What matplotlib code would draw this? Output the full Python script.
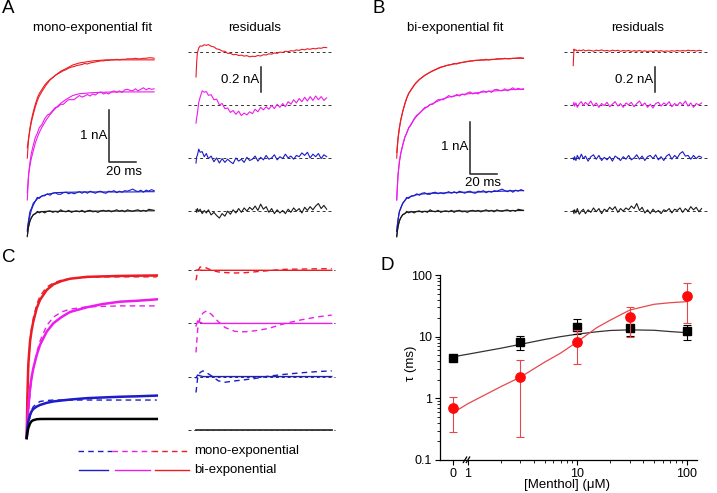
import numpy as np
import matplotlib
matplotlib.use('Agg')
import matplotlib.pyplot as plt
from matplotlib.lines import Line2D
from matplotlib.ticker import FixedLocator, NullFormatter

plt.rcParams['font.family'] = ['Liberation Sans', 'DejaVu Sans']

W, H = 717, 493

RED = '#ec1c24'
MAG = '#ec1cec'
BLUE = '#1c1cc8'
BLACK = '#1a1a1a'
colors = [RED, MAG, BLUE, BLACK]

### recorded currents (nA) vs time (ms) ###
t_grid = [1, 1.5, 2, 3, 4, 5.5, 7, 8.5, 10] + list(range(12, 97, 2))

raw_red = [1.54, 1.75, 1.92, 2.12, 2.27, 2.44, 2.58, 2.70, 2.79, 2.87, 2.95, 3.01, 3.06, 3.10, 3.14,
           3.17, 3.20, 3.23, 3.25, 3.28, 3.30, 3.31, 3.33, 3.34, 3.35, 3.37, 3.36, 3.38, 3.39, 3.40,
           3.41, 3.42, 3.42, 3.43, 3.43, 3.44, 3.44, 3.45, 3.44, 3.45, 3.45, 3.46, 3.46, 3.46, 3.47,
           3.46, 3.46, 3.47, 3.47, 3.48, 3.48, 3.47]
raw_mag = [0.73, 1.00, 1.22, 1.46, 1.63, 1.79, 1.94, 2.02, 2.13, 2.19, 2.30, 2.37, 2.40, 2.46, 2.52,
           2.53, 2.58, 2.58, 2.63, 2.67, 2.67, 2.67, 2.71, 2.75, 2.72, 2.74, 2.77, 2.74, 2.78, 2.76,
           2.80, 2.82, 2.78, 2.80, 2.78, 2.82, 2.84, 2.81, 2.84, 2.81, 2.86, 2.87, 2.85, 2.84, 2.88,
           2.84, 2.87, 2.90, 2.86, 2.89, 2.87, 2.88]
raw_blue = [0.12, 0.25, 0.35, 0.51, 0.56, 0.67, 0.71, 0.78, 0.76, 0.81, 0.81, 0.85, 0.82, 0.86, 0.87,
            0.84, 0.84, 0.87, 0.88, 0.85, 0.87, 0.85, 0.87, 0.89, 0.86, 0.89, 0.86, 0.90, 0.88, 0.86,
            0.89, 0.90, 0.87, 0.86, 0.90, 0.89, 0.91, 0.87, 0.90, 0.88, 0.91, 0.90, 0.92, 0.94, 0.91,
            0.89, 0.92, 0.88, 0.92, 0.90, 0.93, 0.91]
raw_black = [0.02, 0.14, 0.22, 0.33, 0.38, 0.45, 0.46, 0.51, 0.48, 0.51, 0.48, 0.51, 0.52, 0.49, 0.51,
             0.49, 0.54, 0.51, 0.50, 0.53, 0.49, 0.51, 0.52, 0.50, 0.53, 0.49, 0.52, 0.53, 0.50, 0.51,
             0.49, 0.52, 0.53, 0.51, 0.53, 0.50, 0.52, 0.54, 0.51, 0.53, 0.50, 0.54, 0.52, 0.51, 0.53,
             0.54, 0.51, 0.53, 0.51, 0.55, 0.54, 0.53]

# fitted curves for panels A (mono) and B (bi)
t_fit = [1, 2, 3, 4, 5.5, 7, 8.5, 10, 12, 15, 18, 22, 26, 30, 35, 40, 45, 50, 60, 70, 80, 90, 96]
mono_red = [1.74, 1.93, 2.09, 2.23, 2.39, 2.53, 2.65, 2.74, 2.83, 2.95, 3.05, 3.14, 3.22, 3.27, 3.34,
            3.38, 3.40, 3.42, 3.44, 3.44, 3.44, 3.44, 3.44]
mono_mag = [0.875, 1.23, 1.40, 1.53, 1.685, 1.83, 1.94, 2.036, 2.14, 2.27, 2.38, 2.50, 2.60, 2.675,
            2.75, 2.785, 2.795, 2.805, 2.815, 2.82, 2.82, 2.82, 2.82]
mono_blue = [0.16, 0.31, 0.43, 0.53, 0.63, 0.705, 0.75, 0.78, 0.805, 0.835, 0.85, 0.87, 0.875, 0.88,
             0.88, 0.885, 0.885, 0.885, 0.885, 0.885, 0.885, 0.89, 0.89]
mono_black = [0.04, 0.22, 0.32, 0.39, 0.44, 0.47, 0.49, 0.50, 0.505, 0.51, 0.51, 0.51, 0.51, 0.51,
              0.51, 0.51, 0.51, 0.515, 0.515, 0.515, 0.515, 0.52, 0.52]
bi_red = [1.65, 1.92, 2.12, 2.27, 2.44, 2.58, 2.70, 2.79, 2.87, 2.98, 3.06, 3.14, 3.20, 3.25, 3.305,
          3.34, 3.365, 3.39, 3.43, 3.44, 3.46, 3.47, 3.47]
bi_mag = [0.73, 1.21, 1.47, 1.62, 1.79, 1.93, 2.03, 2.12, 2.21, 2.32, 2.41, 2.50, 2.57, 2.62, 2.68,
          2.72, 2.745, 2.77, 2.80, 2.83, 2.85, 2.87, 2.87]
bi_blue = [0.12, 0.35, 0.50, 0.58, 0.66, 0.72, 0.76, 0.78, 0.80, 0.825, 0.84, 0.85, 0.86, 0.86, 0.865,
           0.87, 0.875, 0.88, 0.88, 0.89, 0.90, 0.91, 0.91]
bi_black = [0.02, 0.21, 0.32, 0.39, 0.44, 0.47, 0.49, 0.50, 0.50, 0.505, 0.505, 0.51, 0.51, 0.51, 0.51,
            0.51, 0.515, 0.515, 0.515, 0.52, 0.52, 0.525, 0.525]

# residuals (nA) on t_grid
resA_red = [-0.20, -0.08, -0.01, 0.03, 0.045, 0.044, 0.055, 0.050, 0.056, 0.043, 0.038, 0.022, 0.018,
            0.005, 0.003, -0.013, -0.013, -0.024, -0.021, -0.030, -0.027, -0.035, -0.031, -0.041,
            -0.036, -0.038, -0.030, -0.034, -0.024, -0.026, -0.017, -0.019, -0.010, -0.013, -0.003,
            -0.006, 0.004, 0.000, 0.008, 0.005, 0.014, 0.010, 0.019, 0.015, 0.023, 0.019, 0.026,
            0.022, 0.029, 0.027, 0.034, 0.032]
resA_mag = [-0.145, -0.10, -0.07, 0.02, 0.06, 0.11, 0.10, 0.105, 0.075, 0.08, 0.04, 0.045, 0.0, 0.01,
            -0.03, -0.025, -0.06, -0.045, -0.075, -0.05, -0.085, -0.065, -0.08, -0.055, -0.07,
            -0.035, -0.055, -0.02, -0.04, -0.015, -0.035, -0.005, -0.03, 0.005, -0.02, 0.01, -0.015,
            0.025, 0.005, 0.04, 0.015, 0.05, 0.025, 0.06, 0.03, 0.065, 0.035, 0.07, 0.04, 0.065,
            0.035, 0.055]
resA_blue = [-0.04, 0.01, 0.02, 0.07, 0.045, 0.05, 0.01, 0.035, -0.005, 0.015, -0.03, 0.0, -0.04,
             -0.005, -0.035, -0.01, -0.03, -0.045, 0.0, -0.025, -0.01, -0.035, 0.005, -0.02, -0.01,
             0.015, -0.025, 0.005, -0.015, 0.02, -0.01, 0.0, 0.025, -0.015, 0.01, -0.005, 0.03, 0.0,
             0.015, -0.01, 0.02, 0.01, 0.04, 0.02, 0.045, 0.0, 0.03, 0.01, 0.035, -0.005, 0.025, 0.01]
resA_black = [0.01, -0.01, 0.02, -0.005, 0.015, -0.02, 0.005, -0.015, 0.01, -0.03, -0.01, -0.035,
              -0.055, -0.02, -0.04, 0.0, -0.025, 0.01, -0.015, 0.02, -0.01, 0.025, 0.0, 0.03, 0.01,
              0.04, 0.005, 0.055, 0.015, 0.035, -0.01, 0.02, -0.02, 0.01, -0.015, 0.005, -0.02,
              0.015, -0.01, 0.025, 0.0, 0.02, -0.015, 0.03, 0.005, 0.035, 0.01, 0.04, 0.06, 0.02,
              0.045, 0.015]
resB_red = [-0.11, 0.02, 0.01, 0.015, 0.005, 0.012, 0.008, 0.015, 0.006, 0.012, 0.01, 0.004, 0.012,
            0.008, 0.014, 0.006, 0.01, 0.004, 0.012, 0.007, 0.011, 0.003, 0.009, 0.005, 0.01, 0.002,
            0.008, 0.004, 0.009, 0.003, 0.007, 0.001, 0.006, 0.002, 0.009, 0.004, 0.008, 0.002,
            0.006, 0.003, 0.008, 0.004, 0.01, 0.005, 0.009, 0.006, 0.012, 0.007, 0.01, 0.005, 0.011,
            0.008]
resB_mag = [0.0, 0.02, -0.01, 0.015, -0.02, 0.01, 0.025, -0.005, 0.02, 0.0, 0.03, -0.01, 0.015, -0.02,
            0.01, -0.005, 0.02, -0.015, 0.005, 0.025, -0.01, 0.01, -0.02, 0.015, 0.0, 0.02, -0.015,
            0.01, 0.03, -0.005, 0.015, -0.02, 0.005, -0.025, 0.01, 0.02, -0.01, 0.015, 0.0, 0.025,
            -0.015, 0.01, -0.005, 0.02, 0.0, 0.03, -0.01, 0.015, -0.02, 0.01, 0.0, 0.015]
resB_blue = [0.0, -0.015, 0.01, -0.02, 0.02, -0.01, 0.03, -0.005, 0.015, -0.025, 0.01, 0.025, -0.01,
             0.02, -0.02, 0.005, -0.015, 0.01, -0.025, 0.015, 0.0, -0.02, 0.01, -0.01, 0.02, -0.015,
             0.0, 0.025, -0.01, 0.015, -0.02, 0.01, 0.02, -0.005, 0.025, -0.015, 0.01, -0.02, 0.015,
             0.03, -0.01, 0.02, 0.0, 0.035, 0.05, 0.015, 0.02, -0.01, 0.02, -0.005, 0.015, 0.005]
resB_black = [0.005, -0.02, 0.01, -0.015, 0.02, -0.025, 0.0, 0.015, -0.02, 0.01, -0.01, 0.025, -0.005,
              0.02, -0.02, 0.015, 0.0, 0.03, 0.01, 0.035, -0.01, 0.02, 0.0, 0.025, 0.01, 0.04, 0.02,
              0.06, 0.005, 0.03, -0.015, 0.01, -0.02, 0.015, -0.01, 0.005, -0.02, 0.01, 0.0, 0.02,
              -0.015, 0.015, 0.005, 0.025, -0.01, 0.02, 0.0, 0.035, 0.01, 0.03, -0.005, 0.02]

# panel C: fit comparison
t_c = [0, 0.5, 1.2, 2.5, 3.7, 5, 7.5, 10, 15, 20, 26, 32.4, 45, 57, 70, 83, 97.4]
c_bi_red = [0, 0.85, 1.56, 2.06, 2.30, 2.49, 2.77, 2.95, 3.16, 3.28, 3.35, 3.40, 3.44, 3.45, 3.46, 3.465, 3.47]
c_mono_red = [0, 0.70, 1.45, 2.05, 2.35, 2.56, 2.85, 3.03, 3.22, 3.31, 3.37, 3.40, 3.43, 3.44, 3.44, 3.44, 3.44]
c_bi_mag = [0, 0.30, 0.63, 1.06, 1.30, 1.49, 1.77, 1.99, 2.27, 2.45, 2.58, 2.69, 2.79, 2.86, 2.91, 2.93, 2.96]
c_mono_mag = [0, 0.15, 0.45, 0.95, 1.25, 1.48, 1.82, 2.07, 2.40, 2.58, 2.69, 2.75, 2.80, 2.81, 2.82, 2.82, 2.82]
c_bi_blue = [0, 0.20, 0.35, 0.49, 0.57, 0.62, 0.67, 0.705, 0.75, 0.78, 0.80, 0.82, 0.85, 0.865, 0.88, 0.89, 0.905]
c_mono_blue = [0, 0.10, 0.21, 0.46, 0.60, 0.67, 0.73, 0.78, 0.80, 0.81, 0.81, 0.81, 0.81, 0.81, 0.81, 0.81, 0.81]
c_bi_black = [0, 0.10, 0.21, 0.31, 0.36, 0.38, 0.40, 0.405, 0.406, 0.406, 0.406, 0.406, 0.406, 0.406,
              0.406, 0.406, 0.406]

t_cr = [0, 1.2, 2.9, 5, 7.6, 11.2, 16, 20.7, 27.9, 35, 42.2, 51.7, 63.6, 75.5, 87.5, 97]
cres_mono_red = [-0.079, -0.008, 0.026, 0.024, 0.018, 0.0, -0.013, -0.018, -0.021, -0.019, -0.012,
                 -0.003, 0.008, 0.01, 0.012, 0.013]
cres_mono_mag = [-0.229, -0.045, 0.047, 0.082, 0.1, 0.07, 0.013, -0.032, -0.063, -0.066, -0.058,
                 -0.04, 0.0, 0.029, 0.053, 0.066]
cres_mono_blue = [-0.126, -0.008, 0.032, 0.045, 0.03, 0.005, -0.034, -0.045, -0.034, -0.025, -0.015,
                  0.003, 0.018, 0.03, 0.04, 0.045]
cres_bi_red = [0.0, 0.004, 0.002, 0.0, 0.0, 0.0, 0.0, 0.0, 0.0, 0.0, 0.0, 0.0, 0.0, 0.0, 0.0, 0.0]
cres_bi_mag = [-0.02, 0.02, 0.01, 0.0, 0.0, 0.0, 0.0, 0.0, 0.0, 0.0, 0.0, 0.0, 0.0, 0.0, 0.0, 0.0]
cres_bi_blue = [-0.01, 0.012, 0.006, 0.0, 0.0, 0.0, 0.0, 0.0, 0.0, 0.0, 0.0, 0.0, 0.0, 0.0, 0.0, 0.0]
cres_black = [0.0] * 16

# panel D: time constants
menthol = [0, 3, 10, 30, 100]
tau_black = [4.5, 8.3, 14.5, 13.6, 12.4]
tau_black_lo = [4.25, 6.1, 11.0, 10.3, 8.8]
tau_black_hi = [4.75, 10.3, 19.1, 15.5, 15.5]
tau_red = [0.69, 2.24, 8.1, 20.6, 45.7]
tau_red_lo = [0.28, 0.24, 3.6, 10.0, 16.9]
tau_red_hi = [1.06, 4.19, 12.8, 30.6, 73.3]
fit_conc = [0, 1, 2, 3, 5, 7, 10, 15, 20, 30, 50, 70, 100]
fit_black = [4.7, 5.2, 6.5, 7.5, 9.0, 10.0, 11.0, 12.0, 12.6, 12.9, 12.7, 12.1, 11.6]
fit_red = [0.58, 0.82, 1.55, 2.2, 3.85, 5.4, 8.3, 14.0, 18.6, 27.0, 33.5, 35.5, 37.0]


### layout helpers ###
fig = plt.figure(figsize=(W / 100, H / 100), dpi=100)


def px_axes(x0, y0, x1, y1):
    ax = fig.add_axes([x0 / W, 1 - y1 / H, (x1 - x0) / W, (y1 - y0) / H])
    ax.set_axis_off()
    return ax


def fig_text(x, y, s, **kw):
    fig.text(x / W, 1 - y / H, s, **kw)


def fig_line(x0, x1, y, **kw):
    fig.add_artist(Line2D([x0 / W, x1 / W], [1 - y / H, 1 - y / H], transform=fig.transFigure, **kw))


row_off = [0, -0.42, -0.84, -1.26]
FS = 9.5

raws = [raw_red, raw_mag, raw_blue, raw_black]
monos = [mono_red, mono_mag, mono_blue, mono_black]
bis = [bi_red, bi_mag, bi_blue, bi_black]


def trace_panel(x0, fits, bar_t, bar_i, txt_t, txt_i, ms_t, ms_i):
    ax = px_axes(x0, 40, x0 + 150, 245)
    ax.set_xlim(-4.47, 107.9)
    ax.set_ylim(-0.141, 3.824)
    for raw, fit, c in zip(raws, fits, colors):
        ax.plot(t_grid, raw, color=c, lw=0.8)
        ax.plot(t_fit, fit, color=c, lw=0.8)
    ax.plot([bar_t, bar_t, bar_t + 20], [bar_i + 1, bar_i, bar_i], color='#222222', lw=1.1)
    ax.text(txt_t, txt_i, '1 nA', ha='right', va='center', fontsize=FS)
    ax.text(ms_t, ms_i, '20 ms', ha='center', va='center', fontsize=FS)


def resid_panel(rect, xlim, ylim, dash_ext, t, series):
    ax = px_axes(*rect)
    ax.set_xlim(*xlim)
    ax.set_ylim(*ylim)
    for off in row_off:
        ax.plot(dash_ext, [off, off], color='#333333', lw=0.7, dashes=(3, 3))
    for res, c, off in zip(series, colors, row_off):
        ax.plot(t, np.array(res) + off, color=c, lw=0.8)
    return ax


### panel A ###
trace_panel(20, monos, 62.4, 1.47, 60.9, 1.97, 73.6, 1.27)
axr = resid_panel((185, 30, 340, 235), (-7.0, 105.7), (-1.449, 0.1715), [-4.6, 100.6], t_grid,
                  [resA_red, resA_mag, resA_blue, resA_black])
axr.plot([48.3, 48.3], [-0.12, -0.32], color='#222222', lw=1.1)
axr.text(46.8, -0.224, '0.2 nA', ha='right', va='center', fontsize=FS)

### panel B ###
trace_panel(389.4, bis, 55.9, 1.24, 54.4, 1.76, 65.6, 1.06)
axr = resid_panel((550, 30, 717, 235), (-16.2, 107.4), (-1.449, 0.1715), [-5.9, 100.7], t_grid,
                  [resB_red, resB_mag, resB_blue, resB_black])
axr.plot([61.5, 61.5], [-0.12, -0.32], color='#222222', lw=1.1)
axr.text(60.0, -0.224, '0.2 nA', ha='right', va='center', fontsize=FS)

### panel C ###
axc = px_axes(20, 260, 170, 445)
axc.set_xlim(-5.0, 107.3)
axc.set_ylim(-0.15, 3.80)
for mono, bi, c in zip([c_mono_red, c_mono_mag, c_mono_blue], [c_bi_red, c_bi_mag, c_bi_blue],
                       [RED, MAG, BLUE]):
    axc.plot(t_c, mono, color=c, lw=1.0, dashes=(4, 3))
    axc.plot(t_c, bi, color=c, lw=1.8)
axc.plot(t_c, c_bi_black, color='black', lw=1.8)

axcr = px_axes(185, 255, 340, 445)
axcr.set_xlim(-7.86, 102.9)
axcr.set_ylim(-1.381, 0.121)
for off in row_off:
    axcr.plot([-5.5, 99.4], [off, off], color='#333333', lw=0.7, dashes=(3, 3))
for mono, bi, c, off in zip([cres_mono_red, cres_mono_mag, cres_mono_blue],
                            [cres_bi_red, cres_bi_mag, cres_bi_blue], [RED, MAG, BLUE], row_off):
    axcr.plot(t_cr, np.array(mono) + off, color=c, lw=1.0, dashes=(4, 3))
    axcr.plot(t_cr, np.array(bi) + off, color=c, lw=1.0)
axcr.plot(t_cr, np.array(cres_black) + row_off[3], color='#333333', lw=1.3)

# legend of panel C
for (x0, x1), c in zip([(78, 112), (112, 152), (152, 190)], [BLUE, MAG, RED]):
    fig_line(x0, x1, 450.7, color=c, lw=1.0, dashes=(4, 3))
for (x0, x1), c in zip([(79, 108), (115, 150), (155, 189)], [BLUE, MAG, RED]):
    fig_line(x0, x1, 470, color=c, lw=1.0)
fig_text(194, 450.7, 'mono-exponential', ha='left', va='center', fontsize=FS)
fig_text(194, 470, 'bi-exponential', ha='left', va='center', fontsize=FS)

### panel D ###
zero_pos = 0.725


def xpos(conc):
    return [zero_pos if c == 0 else c for c in conc]


axd = fig.add_axes([440 / W, 1 - 460 / H, 256.7 / W, 185 / H])
axd.set_xscale('log')
axd.set_yscale('log')
axd.plot(xpos(fit_conc), fit_black, color='#333333', lw=0.9, zorder=2)
axd.plot(xpos(fit_conc), fit_red, color='#e8474a', lw=0.9, zorder=3)
tb = np.array(tau_black)
axd.errorbar(xpos(menthol), tb, yerr=[tb - np.array(tau_black_lo), np.array(tau_black_hi) - tb],
             fmt='s', color='black', ms=5.3, capsize=3, elinewidth=0.8, capthick=0.8, zorder=4)
tr = np.array(tau_red)
axd.errorbar(xpos(menthol), tr, yerr=[tr - np.array(tau_red_lo), np.array(tau_red_hi) - tr],
             fmt='none', ecolor='#e8474a', capsize=3, elinewidth=0.8, capthick=0.8, zorder=5)
axd.plot(xpos(menthol), tau_red, 'o', color='#ff0a0a', ms=6.7, zorder=6)

axd.set_xlim(0.555, 122.7)
axd.set_ylim(0.1, 100)
axd.xaxis.set_major_locator(FixedLocator([zero_pos, 1, 10, 100]))
axd.set_xticklabels(['0', '1', '10', '100'])
axd.xaxis.set_minor_locator(FixedLocator([2, 3, 4, 5, 6, 7, 8, 9, 20, 30, 40, 50, 60, 70, 80, 90]))
axd.xaxis.set_minor_formatter(NullFormatter())
axd.yaxis.set_major_locator(FixedLocator([0.1, 1, 10, 100]))
axd.set_yticklabels(['0.1', '1', '10', '100'])
axd.yaxis.set_minor_formatter(NullFormatter())
for s in ['top', 'right']:
    axd.spines[s].set_visible(False)
for s in ['left', 'bottom']:
    axd.spines[s].set_linewidth(0.9)
axd.tick_params(which='major', direction='out', length=3.5, width=0.8, labelsize=9, pad=2)
axd.tick_params(which='minor', direction='out', length=2, width=0.6)
fig_text(567, 485, '[Menthol] (\u03bcM)', ha='center', va='center', fontsize=FS)
fig_text(411, 363, '\u03c4 (ms)', ha='center', va='center', rotation=90, fontsize=FS)

# axis break marks
for xb in (463.3, 466.3):
    fig.add_artist(Line2D([xb / W, (xb + 3.4) / W], [1 - 462.5 / H, 1 - 457 / H],
                          transform=fig.transFigure, color='black', lw=0.9))

### titles and panel letters ###
fig_text(93, 28, 'mono-exponential fit', ha='center', va='center', fontsize=FS)
fig_text(255, 28, 'residuals', ha='center', va='center', fontsize=FS)
fig_text(455.7, 28, 'bi-exponential fit', ha='center', va='center', fontsize=FS)
fig_text(637.8, 28, 'residuals', ha='center', va='center', fontsize=FS)
for x, y, s in [(1.5, 8.5, 'A'), (372.5, 8.5, 'B'), (2, 257, 'C'), (381, 265, 'D')]:
    fig_text(x, y, s, ha='left', va='center', fontsize=13.5)

fig.savefig('out.png', dpi=100)
